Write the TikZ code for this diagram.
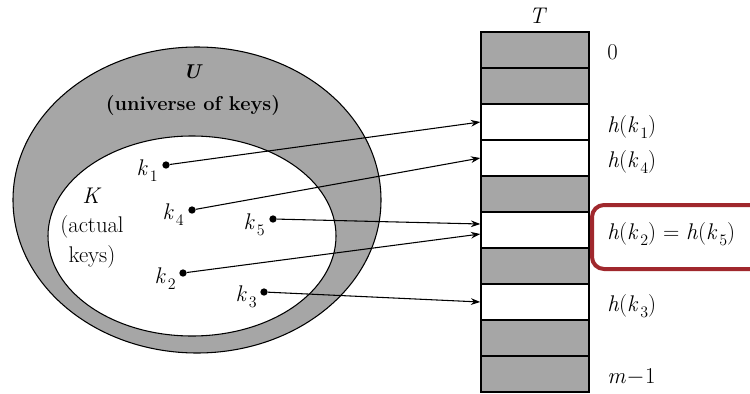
\documentclass[tikz,border=0pt]{standalone}
\usetikzlibrary{arrows.meta}
\definecolor{slotgray}{RGB}{166,166,166}
\definecolor{hired}{RGB}{160,40,45}
\newcommand{\kk}[1]{\textit{k}\kern1.5pt\raisebox{-0.6ex}{\fontsize{12}{12}\selectfont #1}}
\newcommand{\hk}[1]{\textit{h}(\kk{#1})}
\begin{document}
\begin{tikzpicture}[x=0.75pt,y=-0.75pt,
  font=\fontsize{17}{22}\selectfont,
  slot/.style={draw, line width=1.1pt, minimum width=81pt, minimum height=27pt, inner sep=0pt},
  graysl/.style={slot, fill=slotgray},
  whitesl/.style={slot, fill=white},
  dot/.style={circle, fill=black, inner sep=0pt, minimum size=5.5pt},
  arr/.style={line width=0.8pt, -{Stealth[length=7pt,width=5pt]}},
  lab/.style={anchor=west, inner sep=0pt}]
\clip (0,0) rectangle (750,393);
\fill[white] (0,0) rectangle (750,393);
% ellipses
\draw[fill=slotgray, line width=0.8pt] (197,200) ellipse [x radius=184, y radius=153];
\draw[fill=white, line width=0.8pt] (192,236) ellipse [x radius=144, y radius=100];
% texts in sets
\node[align=center, font=\fontsize{15}{24}\selectfont\bfseries] (U) at (193,90) {\textit{U}\\(universe of keys)};
\node[align=center, font=\fontsize{17}{22}\selectfont] (K) at (92,228) {\textit{K}\\(actual\\keys)};
% key dots
\node[dot] (k1) at (166,165) {};
\node[dot] (k4) at (192,210) {};
\node[dot] (k5) at (273,219) {};
\node[dot] (k2) at (183,273) {};
\node[dot] (k3) at (264,292) {};
\node[anchor=east, inner sep=0pt] (l1) at (158,171) {\kk{1}};
\node[anchor=east, inner sep=0pt] (l4) at (184,215) {\kk{4}};
\node[anchor=east, inner sep=0pt] (l5) at (265,225) {\kk{5}};
\node[anchor=east, inner sep=0pt] (l2) at (176,279) {\kk{2}};
\node[anchor=east, inner sep=0pt] (l3) at (257,297) {\kk{3}};
% table
\node[font=\fontsize{17}{20}\selectfont\itshape] (T) at (537,16) {T};
\node[graysl] (s0) at (535,50) {};
\node[graysl] (s1) at (535,86) {};
\node[whitesl] (s2) at (535,122) {};
\node[whitesl] (s3) at (535,158) {};
\node[graysl] (s4) at (535,194) {};
\node[whitesl] (s5) at (535,230) {};
\node[graysl] (s6) at (535,266) {};
\node[whitesl] (s7) at (535,302) {};
\node[graysl] (s8) at (535,338) {};
\node[graysl] (s9) at (535,374) {};
% labels
\node[lab] (t0) at (607,52) {0};
\node[lab] (t2) at (607,127) {\hk{1}};
\node[lab] (t3) at (607,162) {\hk{4}};
\node[lab] (t5) at (607,234) {\hk{2} = \hk{5}};
\node[lab] (t7) at (607,306) {\hk{3}};
\node[lab] (t9) at (607,377) {\textit{m}\kern0.5pt$-$\kern0.5pt1};
\draw[hired, line width=3pt, rounded corners=9pt] (592,205) rectangle (775,269);
% arrows
\draw[arr] (k1) -- (s2.west);
\draw[arr] (k4) -- (s3.west);
\draw[arr] (k5) -- ([yshift=4.5pt]s5.west);
\draw[arr] (k2) -- ([yshift=-3pt]s5.west);
\draw[arr] (k3) -- (s7.west);
\end{tikzpicture}
\end{document}
